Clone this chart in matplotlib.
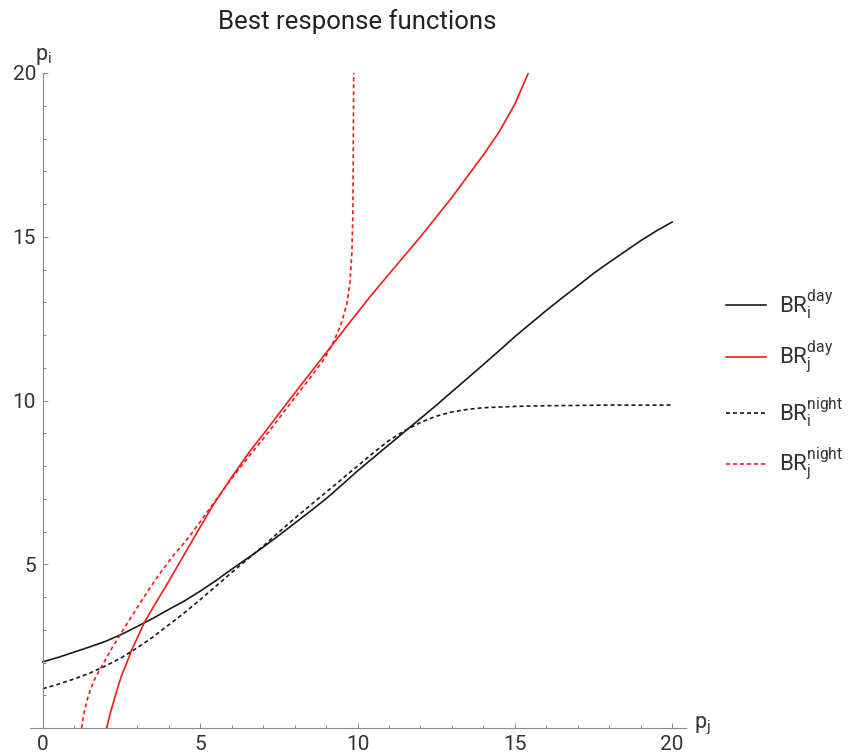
import matplotlib
matplotlib.use("Agg")
import matplotlib.pyplot as plt
from matplotlib.lines import Line2D
from matplotlib.ticker import MultipleLocator, FixedLocator

plt.rcParams["font.family"] = ["Roboto", "DejaVu Sans"]
plt.rcParams["mathtext.default"] = "regular"

# ── Best-response curves (p_j on x, p_i on y) ────────────────────────────────
br_i_day_x = [0, 0.5, 1, 1.5, 2, 2.5, 3, 3.5, 4, 4.5, 5, 5.5, 6, 6.5, 7, 7.5,
              8, 8.5, 9, 9.5, 10, 10.5, 11, 11.5, 12, 12.5, 13, 13.5, 14, 14.5,
              15, 15.5, 16, 16.5, 17, 17.5, 18, 18.5, 19, 19.5, 20]
br_i_day_y = [2.02, 2.16, 2.32, 2.48, 2.65, 2.86, 3.1, 3.35, 3.62, 3.88, 4.18,
              4.5, 4.85, 5.18, 5.52, 5.88, 6.25, 6.62, 7.0, 7.42, 7.85, 8.25,
              8.65, 9.05, 9.45, 9.85, 10.27, 10.68, 11.1, 11.52, 11.95, 12.35,
              12.75, 13.13, 13.5, 13.88, 14.22, 14.55, 14.88, 15.18, 15.45]

br_i_night_x = [0, 0.5, 1, 1.5, 2, 2.5, 3, 3.5, 4, 4.5, 5, 5.5, 6, 6.5, 7, 7.5,
                8, 8.5, 9, 9.5, 10, 10.5, 11, 11.5, 12, 12.5, 13, 13.5, 14, 15,
                16, 17, 18, 20]
br_i_night_y = [1.2, 1.34, 1.5, 1.68, 1.9, 2.15, 2.45, 2.78, 3.15, 3.52, 3.92,
                4.33, 4.75, 5.15, 5.55, 5.98, 6.4, 6.8, 7.2, 7.6, 8.0, 8.4, 8.78,
                9.08, 9.33, 9.52, 9.65, 9.73, 9.78, 9.82, 9.84, 9.85, 9.86, 9.86]

br_j_day_x = [2.03, 2.1, 2.2, 2.3, 2.4, 2.5, 2.65, 2.82, 3.0, 3.24, 3.5, 3.72,
              4.0, 4.35, 4.73, 5.05, 5.42, 6.0, 6.58, 7.11, 7.7, 8.33, 9.07,
              9.7, 10.4, 11.0, 11.5, 12.0, 12.5, 13.0, 13.5, 14.0, 14.5, 15.0,
              15.43]
br_j_day_y = [0, 0.3, 0.65, 0.98, 1.3, 1.6, 1.95, 2.38, 2.75, 3.25, 3.68, 4.03,
              4.48, 5.06, 5.69, 6.22, 6.82, 7.66, 8.45, 9.1, 9.85, 10.63, 11.54,
              12.32, 13.17, 13.86, 14.43, 15.0, 15.6, 16.2, 16.85, 17.5, 18.2,
              19.05, 20]

br_j_night_x = [1.23, 1.28, 1.34, 1.42, 1.52, 1.65, 1.8, 1.95, 2.2, 2.45, 2.75,
                3.08, 3.4, 3.72, 4.15, 4.62, 5.0, 5.42, 6.0, 6.62, 7.1, 7.5, 8.0,
                8.5, 8.95, 9.2, 9.38, 9.5, 9.66, 9.76, 9.82, 9.85, 9.86, 9.87,
                9.88]
br_j_night_y = [0, 0.3, 0.6, 0.9, 1.2, 1.5, 1.77, 2.02, 2.45, 2.84, 3.3, 3.8,
                4.27, 4.72, 5.27, 5.8, 6.3, 6.86, 7.62, 8.38, 8.95, 9.45, 10.08,
                10.7, 11.28, 11.72, 12.1, 12.4, 12.95, 13.6, 14.5, 15.6, 17.0,
                18.5, 20]

legend_labels = [r"$BR_i^{day}$", r"$BR_j^{day}$", r"$BR_i^{night}$", r"$BR_j^{night}$"]

BLACK = "#1a1a1a"
RED = "#f01c1c"
AXIS = "#8a8a8a"
LABEL = "#333333"
DASH = (2.4, 1.8)
LW = 1.2

fig = plt.figure(figsize=(8.49, 7.55), dpi=100, facecolor="white")
ax = fig.add_axes([30 / 849, 1 - 728 / 755, 656 / 849, 655 / 755])

ax.plot(br_i_day_x, br_i_day_y, color=BLACK, lw=LW)
ax.plot(br_j_day_x, br_j_day_y, color=RED, lw=LW)
ax.plot(br_i_night_x, br_i_night_y, color=BLACK, lw=LW, dashes=DASH)
ax.plot(br_j_night_x, br_j_night_y, color=RED, lw=LW, dashes=DASH)

ax.set_xlim(-0.41, 20.44)
ax.set_ylim(0, 20)

# Axes through the origin, ticks pointing into the plot
for side in ("top", "right"):
    ax.spines[side].set_visible(False)
ax.spines["left"].set_position(("data", 0))
ax.spines["left"].set_bounds(0, 20)
for side in ("left", "bottom"):
    ax.spines[side].set_color(AXIS)
    ax.spines[side].set_linewidth(0.8)

ax.xaxis.set_major_locator(FixedLocator([0, 5, 10, 15, 20]))
ax.xaxis.set_minor_locator(MultipleLocator(1))
ax.yaxis.set_major_locator(FixedLocator([5, 10, 15, 20]))
ax.yaxis.set_minor_locator(FixedLocator([v for v in range(1, 20) if v % 5]))
ax.tick_params(which="both", direction="in", color=AXIS, width=0.7)
ax.tick_params(which="major", length=3.5, labelsize=15, labelcolor=LABEL, pad=5)
ax.tick_params(which="minor", length=2)
ax.patch.set_visible(False)

ax.text(-0.25, 20.5, r"$p_i$", fontsize=15.5, color=LABEL, ha="left", va="center")
ax.text(20.7, 0.05, r"$p_j$", fontsize=15.5, color=LABEL, ha="left", va="center",
        clip_on=False)

fig.text(357 / 849, 1 - 22 / 755, "Best response functions", fontsize=18.5,
         color="#222222", ha="center", va="center")

# ── Legend on the right ──────────────────────────────────────────────────────
legend_styles = [(BLACK, None), (RED, None), (BLACK, DASH), (RED, DASH)]
legend_rows = [305, 357, 413, 464]
for lbl, (col, dash), row in zip(legend_labels, legend_styles, legend_rows):
    yf = 1 - row / 755
    ln = Line2D([726 / 849, 766 / 849], [yf, yf], color=col, lw=LW,
                transform=fig.transFigure)
    if dash:
        ln.set_dashes(dash)
    fig.add_artist(ln)
    fig.text(779 / 849, yf, lbl, fontsize=16, color=LABEL, ha="left", va="center")

fig.savefig("out.png", dpi=100, facecolor="white")
